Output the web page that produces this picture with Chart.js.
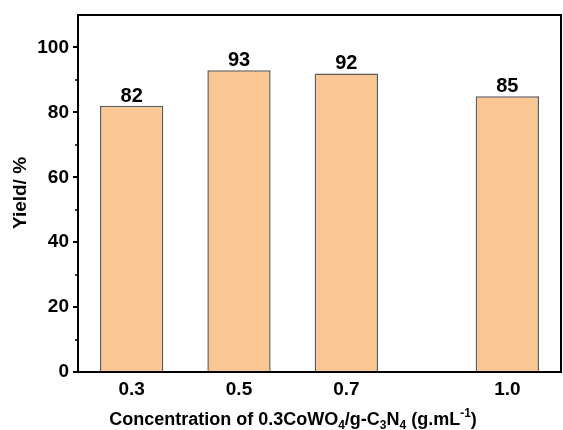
<!DOCTYPE html>
<html>
<head>
<meta charset="utf-8">
<script src="https://cdn.jsdelivr.net/npm/chart.js@4"></script>
<style>
  html, body { margin: 0; padding: 0; background: #fff; }
  #wrap { width: 563px; height: 430px; }
</style>
</head>
<body>
<div id="wrap"><canvas id="yieldChart" width="563" height="430"></canvas></div>
<script>
const concentrations = [0.3, 0.5, 0.7, 1.0];
const yields = [82, 93, 92, 85];
const majorTicks = [0, 20, 40, 60, 80, 100];
const minorTicks = [10, 30, 50, 70, 90];

const FONT = '"Liberation Sans", Arial, sans-serif';
const ink = '#000';

// frame, y ticks, value labels and axis titles
const decorations = {
  id: 'decorations',
  afterDatasetsDraw(chart) {
    const { ctx, chartArea: a, scales: { x, y } } = chart;
    ctx.save();

    // bar value labels
    ctx.fillStyle = ink;
    ctx.font = 'bold 20px ' + FONT;
    ctx.textAlign = 'center';
    ctx.textBaseline = 'alphabetic';
    yields.forEach((v, i) => {
      ctx.fillText(String(v), x.getPixelForValue(concentrations[i]), y.getPixelForValue(v) - 4);
    });

    // frame
    ctx.strokeStyle = ink;
    ctx.lineWidth = 2;
    ctx.strokeRect(a.left, a.top, a.right - a.left, a.bottom - a.top);

    // y ticks, outward
    ctx.lineWidth = 2;
    majorTicks.forEach(v => {
      const py = Math.round(y.getPixelForValue(v));
      ctx.beginPath(); ctx.moveTo(a.left - 5, py); ctx.lineTo(a.left, py); ctx.stroke();
    });
    ctx.lineWidth = 1.5;
    minorTicks.forEach(v => {
      const py = Math.round(y.getPixelForValue(v));
      ctx.beginPath(); ctx.moveTo(a.left - 3, py); ctx.lineTo(a.left, py); ctx.stroke();
    });

    // x title with sub/superscripts
    const parts = [
      ['Concentration of 0.3CoWO', 0], ['4', 1], ['/g-C', 0], ['3', 1], ['N', 0], ['4', 1],
      [' (g.mL', 0], ['-1', -1], [')', 0]
    ];
    const fontFor = k => (k === 0 ? 'bold 18px ' : 'bold 12px ') + FONT;
    let total = 0;
    parts.forEach(([t, k]) => { ctx.font = fontFor(k); total += ctx.measureText(t).width; });
    let cx = 293 - total / 2;
    const base = 425;
    ctx.textAlign = 'left';
    parts.forEach(([t, k]) => {
      ctx.font = fontFor(k);
      const dy = k === 1 ? 4 : k === -1 ? -8 : 0;
      ctx.fillText(t, cx, base + dy);
      cx += ctx.measureText(t).width;
    });

    // y title
    ctx.translate(26, 193);
    ctx.rotate(-Math.PI / 2);
    ctx.font = 'bold 19px ' + FONT;
    ctx.textAlign = 'center';
    ctx.textBaseline = 'alphabetic';
    ctx.fillText('Yield/ %', 0, 0);

    ctx.restore();
  }
};

new Chart(document.getElementById('yieldChart'), {
  type: 'bar',
  data: {
    datasets: [{
      data: concentrations.map((c, i) => ({ x: c, y: yields[i] })),
      backgroundColor: '#fac794',
      borderColor: '#5c5c5c',
      borderWidth: 1.5,
      barPercentage: 0.59,
      categoryPercentage: 1
    }]
  },
  options: {
    responsive: false,
    animation: false,
    layout: { padding: { top: 15, right: 2, left: 0, bottom: 0 } },
    plugins: { legend: { display: false }, tooltip: { enabled: false } },
    scales: {
      x: {
        type: 'linear',
        offset: false,
        min: 0.2,
        max: 1.1,
        afterBuildTicks: s => { s.ticks = concentrations.map(v => ({ value: v })); },
        afterFit: s => { s.height = 58; s.paddingLeft = 0; s.paddingRight = 0; },
        grid: { display: false, drawTicks: false, offset: false },
        border: { display: false },
        ticks: {
          padding: 6,
          color: ink,
          font: { family: FONT, size: 19, weight: 'bold' },
          callback: v => Number(v).toFixed(1)
        }
      },
      y: {
        min: 0,
        max: 110,
        afterBuildTicks: s => { s.ticks = majorTicks.map(v => ({ value: v })); },
        afterFit: s => { s.width = 78; s.paddingTop = 0; s.paddingBottom = 0; },
        grid: { display: false, drawTicks: false },
        border: { display: false },
        ticks: {
          padding: 9,
          color: ink,
          font: { family: FONT, size: 19, weight: 'bold' }
        }
      }
    }
  },
  plugins: [decorations]
});
</script>
</body>
</html>
